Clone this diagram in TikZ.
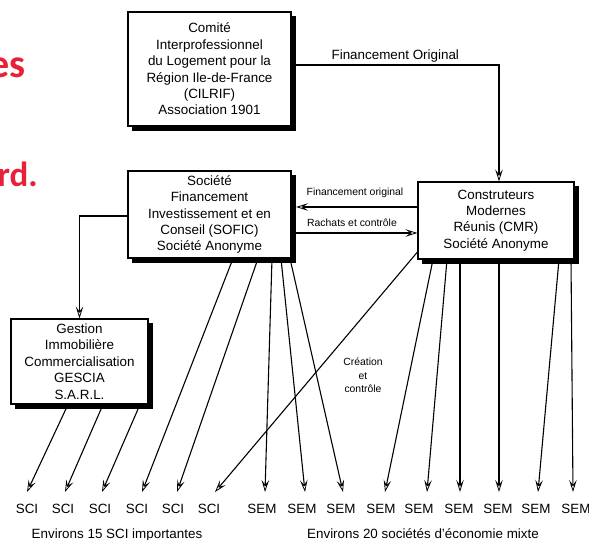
\documentclass[tikz,border=0pt]{standalone}
\usepackage{fontspec}
\setmainfont{Liberation Sans}
\newfontfamily\redfont{Carlito}
\usetikzlibrary{arrows.meta,calc,backgrounds}
\definecolor{slidered}{RGB}{232,32,56}
\begin{document}
\begin{tikzpicture}[x=1pt,y=-1pt,
  box/.style={draw, line width=1.1pt, fill=white, align=center, inner sep=0pt,
    font=\fontsize{13.4}{16.4}\selectfont},
  shadowbox/.style={fill=black},
  arr/.style={line width=1.1pt, -{Stealth[open, length=12pt, width=7.5pt, inset=5pt, line width=0.8pt]}},
  lbl/.style={inner sep=0pt, anchor=base, font=\fontsize{13.4}{16}\selectfont},
  small/.style={inner sep=0pt, align=center, font=\fontsize{10.4}{13.5}\selectfont},
  redtxt/.style={inner sep=0pt, anchor=base east, text=slidered}]
\useasboundingbox (0,0) rectangle (589,540);
\clip (0,0) rectangle (589,540);

% partial slide text
\node[redtxt, font=\redfont\bfseries\fontsize{40}{40}\selectfont] (red1) at (26,78) {es};
\node[redtxt, font=\redfont\bfseries\fontsize{35}{35}\selectfont] (red2) at (38,187) {rd.};

% boxes
\node[box, minimum width=163pt, minimum height=114pt] (cilrif) at (209.5,69)
  {Comité\\Interprofessionnel\\du Logement pour la\\Région Ile-de-France\\(CILRIF)\\Association 1901};
\node[box, minimum width=163pt, minimum height=87pt] (sofic) at (209.5,214.5)
  {Société\\Financement\\Investissement et en\\Conseil (SOFIC)\\Société Anonyme};
\node[box, minimum width=156pt, minimum height=77pt] (cmr) at (496,220.5)
  {Construteurs\\Modernes\\Réunis (CMR)\\Société Anonyme};
\node[box, minimum width=137pt, minimum height=85pt] (gescia) at (79.5,361.5)
  {Gestion\\Immobilière\\Commercialisation\\GESCIA\\S.A.R.L.};

% shadows and page background
\begin{scope}[on background layer]
  \fill[white] (0,0) rectangle (589,540);
  \foreach \b in {cilrif,sofic,cmr,gescia}
    \fill[shadowbox] ([xshift=4.5pt,yshift=-4.5pt]\b.south west) rectangle ([xshift=4.5pt,yshift=-4.5pt]\b.north east);
\end{scope}

% bottom labels
\foreach \n/\x in {1/27,2/63,3/100,4/137,5/173,6/209}
  \node[lbl] (sci\n) at (\x,513) {SCI};
\foreach \n/\x in {1/262,2/302,3/341,4/381,5/419,6/459,7/498,8/536,9/576}
  \node[lbl] (sem\n) at (\x,513) {SEM};
\node[lbl] (cap1) at (117,538) {Environs 15 SCI importantes};
\node[lbl] (cap2) at (423,538) {Environs 20 sociétés d'économie mixte};

% small labels
\node[small] (fol) at (355,193) {Financement original};
\node[small] (rac) at (352,223) {Rachats et contrôle};
\node[small] (crea) at (363,375.5) {Création\\et\\contrôle};

% top connector
\draw[arr] ([yshift=4pt]cilrif.east) -| node[pos=0.25, lbl, yshift=5pt] (fo) {Financement Original} ([xshift=3pt]cmr.north);

% SOFIC <-> CMR
\draw[arr] ([yshift=13.5pt]cmr.west) coordinate (f1) -- ($(f1 -| sofic.east)+(4.5pt,0)$);
\draw[arr] ([yshift=-18.5pt]sofic.east) coordinate (r1) -- (r1 -| cmr.west);

% SOFIC -> GESCIA
\draw[arr] ([yshift=-1.5pt]sofic.west) -| (gescia.north);

% GESCIA -> SCI
\draw[arr] ([xshift=-11.5pt]gescia.south) -- ([xshift=0pt,yshift=21pt]sci1.base);
\draw[arr] ([xshift=23.5pt]gescia.south) -- ([xshift=2pt,yshift=21pt]sci2.base);
\draw[arr] ([xshift=60.5pt]gescia.south) -- ([xshift=2pt,yshift=21pt]sci3.base);

% SOFIC -> SCI / SEM
\draw[arr] ([xshift=23.5pt]sofic.south) -- ([xshift=5pt,yshift=21pt]sci4.base);
\draw[arr] ([xshift=48.5pt]sofic.south) -- ([xshift=4pt,yshift=21pt]sci5.base);
\draw[arr] ([xshift=62.5pt]sofic.south) -- ([xshift=3pt,yshift=21pt]sem1.base);
\draw[arr] ([xshift=71.5pt]sofic.south) -- ([xshift=3pt,yshift=21pt]sem2.base);
\draw[arr] ([xshift=80.5pt]sofic.south) -- ([xshift=2pt,yshift=21pt]sem3.base);

% CMR -> SCI / SEM
\draw[arr] ([yshift=-31.5pt]cmr.west) -- ([xshift=6pt,yshift=21pt]sci6.base);
\draw[arr] ([xshift=-63pt]cmr.south) -- ([xshift=4pt,yshift=21pt]sem4.base);
\draw[arr] ([xshift=-49pt]cmr.south) -- ([xshift=8pt,yshift=21pt]sem5.base);
\draw[arr] ([xshift=-36pt]cmr.south) -- ([xshift=1pt,yshift=21pt]sem6.base);
\draw[arr] ([xshift=3pt]cmr.south) -- ([xshift=1pt,yshift=21pt]sem7.base);
\draw[arr] ([xshift=63pt]cmr.south) -- ([xshift=2pt,yshift=21pt]sem8.base);
\draw[arr] ([xshift=75pt]cmr.south) -- ([xshift=-3pt,yshift=21pt]sem9.base);
\end{tikzpicture}
\end{document}
